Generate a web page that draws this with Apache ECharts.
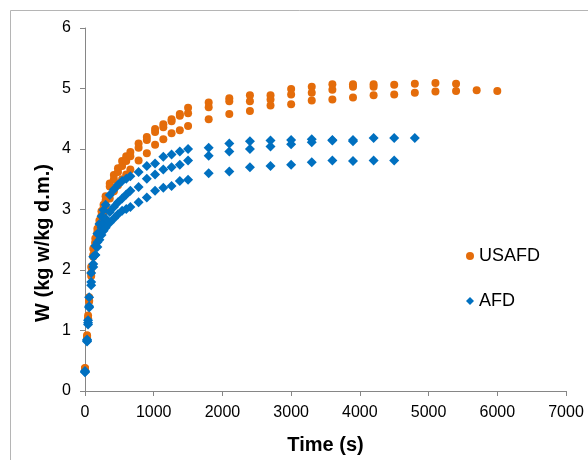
<!DOCTYPE html>
<html>
<head>
<meta charset="utf-8">
<script src="https://cdn.jsdelivr.net/npm/echarts@6/dist/echarts.min.js"></script>
<style>html,body{margin:0;padding:0;background:#fff}#c{width:588px;height:460px}</style>
</head>
<body>
<div id="c"></div>
<script>
// Sampling times (s), shared by all runs; each run uses the first N times
const times = [0,30,45,60,90,120,150,180,210,240,270,300,360,420,480,540,600,660,780,900,1020,1140,1260,1380,1500,1800,2100,2400,2700,3000,3300,3600,3900,4200,4500,4800,5100,5400,5700,6000];

// USAFD runs (kg w/kg d.m.)
const usafdRun1 = [0.38,0.92,1.25,1.55,2.05,2.35,2.52,2.68,2.82,2.97,3.08,3.22,3.43,3.57,3.68,3.80,3.88,3.95,4.09,4.20,4.33,4.41,4.49,4.58,4.68,4.77,4.84,4.89,4.89,4.99,5.03,5.07,5.07,5.07,5.06,5.08,5.09,5.08];
const usafdRun2 = [0.37,0.90,1.20,1.50,1.95,2.25,2.45,2.62,2.76,2.90,3.02,3.15,3.38,3.50,3.62,3.72,3.80,3.88,4.02,4.15,4.28,4.36,4.46,4.55,4.59,4.69,4.79,4.79,4.82,4.90,4.93,4.98,5.03,5.03];
const usafdRun3 = [0.36,0.88,1.20,1.48,1.90,2.22,2.45,2.60,2.72,2.85,2.95,3.05,3.18,3.30,3.40,3.50,3.58,3.66,3.81,3.93,4.07,4.16,4.26,4.31,4.38,4.49,4.58,4.63,4.72,4.74,4.80,4.82,4.85,4.89,4.90,4.93,4.95,4.96,4.97,4.96];

// AFD runs (kg w/kg d.m.)
const afdRun1 = [0.32,0.85,1.17,1.55,1.95,2.22,2.40,2.60,2.76,2.89,2.99,3.08,3.24,3.33,3.41,3.47,3.51,3.55,3.62,3.72,3.76,3.87,3.91,3.96,4.00,4.02,4.09,4.13,4.14,4.15,4.16,4.15,4.15,4.18,4.18,4.18];
const afdRun2 = [0.33,0.83,1.13,1.40,1.80,2.05,2.25,2.46,2.60,2.70,2.78,2.85,2.96,3.04,3.12,3.18,3.25,3.31,3.37,3.51,3.58,3.66,3.70,3.74,3.81,3.89,3.96,4.00,4.04,4.08,4.11,4.14,4.13];
const afdRun3 = [0.31,0.82,1.10,1.38,1.75,2.10,2.25,2.38,2.50,2.58,2.65,2.70,2.78,2.85,2.92,2.98,3.01,3.04,3.12,3.20,3.31,3.36,3.39,3.47,3.49,3.60,3.63,3.70,3.72,3.74,3.78,3.81,3.80,3.81,3.81];

const xTicks = {min: 0, max: 7000, interval: 1000};
const yTicks = {min: 0, max: 6, interval: 1};

function pairs(run) { return run.map((v, i) => [times[i], v]); }
const usafdData = [].concat(pairs(usafdRun1), pairs(usafdRun2), pairs(usafdRun3));
const afdData = [].concat(pairs(afdRun1), pairs(afdRun2), pairs(afdRun3));

const FONT = 'Liberation Sans';
const axisCommon = {
  splitLine: {show: false},
  axisLine: {show: true, onZero: false, lineStyle: {color: '#868686', width: 1}},
  axisTick: {show: true, inside: false, length: 5, lineStyle: {color: '#868686'}},
};

const chart = echarts.init(document.getElementById('c'), null, {renderer: 'canvas'});
chart.setOption({
  animation: false,
  backgroundColor: '#fff',
  textStyle: {fontFamily: FONT},
  grid: {left: 85, right: 22, top: 28, bottom: 69, containLabel: false},
  xAxis: Object.assign({
    type: 'value', min: xTicks.min, max: xTicks.max, interval: xTicks.interval,
    name: 'Time (s)', nameLocation: 'middle', nameGap: 44,
    nameTextStyle: {fontFamily: FONT, fontSize: 20, fontWeight: 'bold', color: '#000'},
    axisLabel: {fontFamily: FONT, fontSize: 16, color: '#000', margin: 14, formatter: v => String(v)}
  }, axisCommon),
  yAxis: Object.assign({
    type: 'value', min: yTicks.min, max: yTicks.max, interval: yTicks.interval,
    axisLabel: {fontFamily: FONT, fontSize: 16, color: '#000', margin: 14, formatter: v => String(v)}
  }, axisCommon),
  legend: {
    orient: 'vertical', left: 461, top: 242, itemGap: 27,
    itemWidth: 8, itemHeight: 8,
    textStyle: {fontFamily: FONT, fontSize: 18, color: '#000'},
    data: [{name: 'USAFD', icon: 'circle'}, {name: 'AFD', icon: 'diamond'}]
  },
  graphic: [
    {type: 'rect', silent: true, z: -10, shape: {x: 10.5, y: 10.5, width: 620, height: 520},
     style: {fill: null, stroke: '#b5b5b5', lineWidth: 1}},
    {type: 'text', x: 43, y: 243, rotation: Math.PI / 2,
     style: {text: 'W (kg w/kg d.m.)', font: 'bold 20px "Liberation Sans"', fill: '#000', align: 'center', verticalAlign: 'middle'}}
  ],
  series: [
    {name: 'USAFD', type: 'scatter', symbol: 'circle', symbolSize: 8,
     itemStyle: {color: '#E46C0A', opacity: 1}, data: usafdData},
    {name: 'AFD', type: 'scatter', symbol: 'diamond', symbolSize: 10,
     itemStyle: {color: '#0070C0', opacity: 1}, data: afdData}
  ]
});
</script>
</body>
</html>
